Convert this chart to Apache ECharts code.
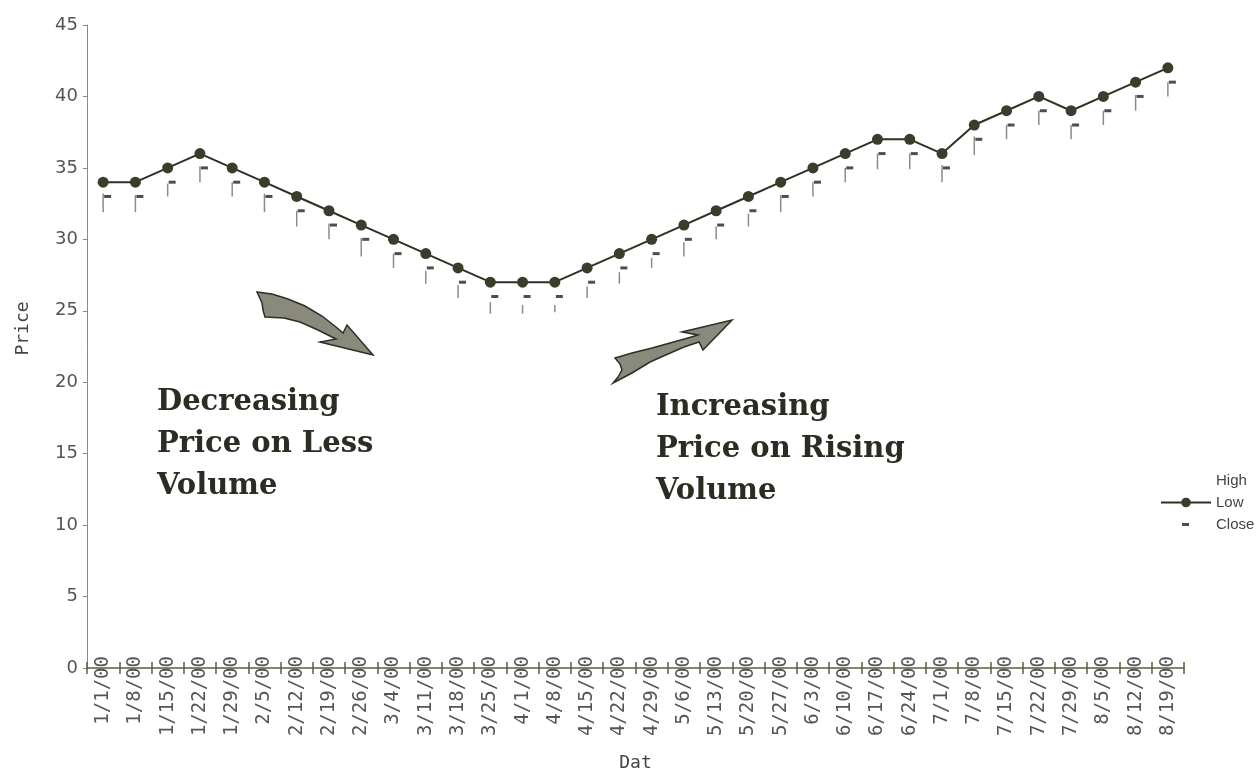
<!DOCTYPE html>
<html>
<head>
<meta charset="utf-8">
<script src="https://cdn.jsdelivr.net/npm/echarts@6/dist/echarts.min.js"></script>
<style>
html,body{margin:0;padding:0;background:#fff;}
#chart{width:1260px;height:778px;}
</style>
</head>
<body>
<div id="chart"></div>
<script>
// ---- data ----
const categories = ['1/1/00','1/8/00','1/15/00','1/22/00','1/29/00','2/5/00','2/12/00','2/19/00','2/26/00',
  '3/4/00','3/11/00','3/18/00','3/25/00','4/1/00','4/8/00','4/15/00','4/22/00','4/29/00',
  '5/6/00','5/13/00','5/20/00','5/27/00','6/3/00','6/10/00','6/17/00','6/24/00',
  '7/1/00','7/8/00','7/15/00','7/22/00','7/29/00','8/5/00','8/12/00','8/19/00'];
// line with round markers (labelled "Low" in the legend)
const lowLine = [34,34,35,36,35,34,33,32,31,30,29,28,27,27,27,28,29,30,31,32,33,34,35,36,37,37,36,38,39,40,39,40,41,42];
// thin vertical bars ("High" legend entry, no icon)
const highBarTop = [33.2,33.1,33.9,35.1,34.0,33.2,32.0,31.1,30.1,29.0,27.8,26.8,25.6,25.4,25.4,26.7,27.7,28.7,29.8,30.9,31.8,33.1,34.0,35.0,36.0,36.0,35.2,37.2,38.0,39.0,38.0,39.0,40.1,41.0];
const highBarBottom = [31.9,31.9,33.0,34.0,33.0,31.9,30.9,30.0,28.8,28.0,26.9,25.9,24.8,24.8,24.9,25.9,26.9,28.0,28.8,30.0,30.9,31.9,33.0,34.0,34.9,34.9,34.0,35.9,37.0,38.0,37.0,38.0,39.0,40.0];
// close ticks
const closeValues = [33,33,34,35,34,33,32,31,30,29,28,27,26,26,26,27,28,29,30,31,32,33,34,35,36,36,35,37,38,39,38,39,40,41];
const yTicks = {min:0, max:45, interval:5};
const annotations = ['Decreasing\nPrice on Less\nVolume', 'Increasing\nPrice on Rising\nVolume'];

const chart = echarts.init(document.getElementById('chart'), null, {renderer:'canvas'});

const axisColor = '#5b5d3e';
const labelColor = '#555';
const monoFont = '"DejaVu Sans Mono", monospace';
const noteFont = 'bold 29px "DejaVu Serif", "Liberation Serif", serif';

const option = {
  backgroundColor: '#ffffff',
  animation: false,
  grid: {left: 87, right: 76, top: 25, bottom: 110, containLabel: false},
  legend: {
    orient: 'vertical',
    left: 1155, top: 468,
    itemWidth: 50, itemHeight: 12, itemGap: 7,
    textStyle: {fontSize: 15, color: '#444', fontFamily: '"Liberation Sans Narrow", "Liberation Sans", Arial, sans-serif'},
    data: [
      {name: 'High'},
      {name: 'Low'},
      {name: 'Close', icon: 'path://M0,0M50,12M21,4.5h7v3h-7z'}
    ]
  },
  xAxis: [{
    type: 'category',
    data: categories,
    boundaryGap: true,
    name: 'Dat',
    nameLocation: 'middle',
    nameGap: 86,
    nameTextStyle: {fontSize: 18, color: '#444', fontFamily: monoFont},
    axisLine: {show: true, lineStyle: {color: axisColor, width: 1.5}},
    axisTick: {show: true, interval: 0, length: 6, lineStyle: {color: axisColor, width: 1.5}},
    axisLabel: {interval: 0, rotate: 90, margin: -12, fontSize: 19, color: labelColor, fontFamily: monoFont},
    splitLine: {show: false}
  }, {
    type: 'category',
    data: categories,
    position: 'bottom',
    boundaryGap: true,
    axisLine: {show: false},
    axisTick: {show: true, inside: true, interval: 0, length: 6, lineStyle: {color: axisColor, width: 1.5}},
    axisLabel: {show: false},
    splitLine: {show: false}
  }],
  yAxis: {
    type: 'value',
    min: yTicks.min, max: yTicks.max, interval: yTicks.interval,
    name: 'Price',
    nameLocation: 'middle',
    nameGap: 55,
    nameTextStyle: {fontSize: 18, color: '#444', fontFamily: monoFont, padding: [0, 0, 0, 36]},
    axisLine: {show: true, lineStyle: {color: '#888', width: 1}},
    axisTick: {show: true, length: 4, lineStyle: {color: '#888'}},
    axisLabel: {fontSize: 18, color: labelColor, margin: 9, fontFamily: '"DejaVu Sans", sans-serif'},
    splitLine: {show: false}
  },
  series: [
    {
      name: 'High',
      type: 'custom',
      itemStyle: {color: 'rgba(0,0,0,0)'},
      data: categories.map((c, i) => [i, highBarTop[i], highBarBottom[i]]),
      encode: {x: 0, y: [1, 2]},
      renderItem: function (params, api) {
        const x = api.value(0);
        const p1 = api.coord([x, api.value(1)]);
        const p2 = api.coord([x, api.value(2)]);
        return {
          type: 'line',
          shape: {x1: p1[0], y1: p1[1], x2: p2[0], y2: p2[1]},
          style: {stroke: '#8c8c84', lineWidth: 1.5}
        };
      },
      z: 2
    },
    {
      name: 'Low',
      type: 'line',
      data: lowLine,
      symbol: 'circle',
      symbolSize: 11,
      itemStyle: {color: '#3a3c2c'},
      lineStyle: {color: '#2f3122', width: 2},
      z: 3
    },
    {
      name: 'Close',
      type: 'scatter',
      data: closeValues,
      symbol: 'rect',
      symbolSize: [7, 3],
      symbolOffset: [4.5, 0],
      itemStyle: {color: '#222'},
      z: 4
    }
  ],
  graphic: [
    {
      type: 'text', left: 157, top: 381,
      style: {text: annotations[0], font: noteFont, fill: '#2b2d22', lineHeight: 42}
    },
    {
      type: 'text', left: 656, top: 386,
      style: {text: annotations[1], font: noteFont, fill: '#2b2d22', lineHeight: 42}
    },
    {
      type: 'polygon',
      shape: {points: [[257,292],[272,294],[288,299],[305,306],[322,316],[336,327],[343,333],[347,325],[373,355],[320,342],[336,339],[318,330],[300,322],[284,318],[265,317],[263,310],[262,303]]},
      style: {fill: '#8a8a7c', stroke: '#2e2e26', lineWidth: 1.5}
    },
    {
      type: 'polygon',
      shape: {points: [[615,358],[632,353],[652,348],[670,343],[688,338],[698,335],[682,332],[732,320],[703,350],[699,342],[684,347],[668,354],[650,362],[632,373],[613,383],[618,377],[622,370],[620,364]]},
      style: {fill: '#8a8a7c', stroke: '#2e2e26', lineWidth: 1.5}
    }
  ]
};
chart.setOption(option);
</script>
</body>
</html>
